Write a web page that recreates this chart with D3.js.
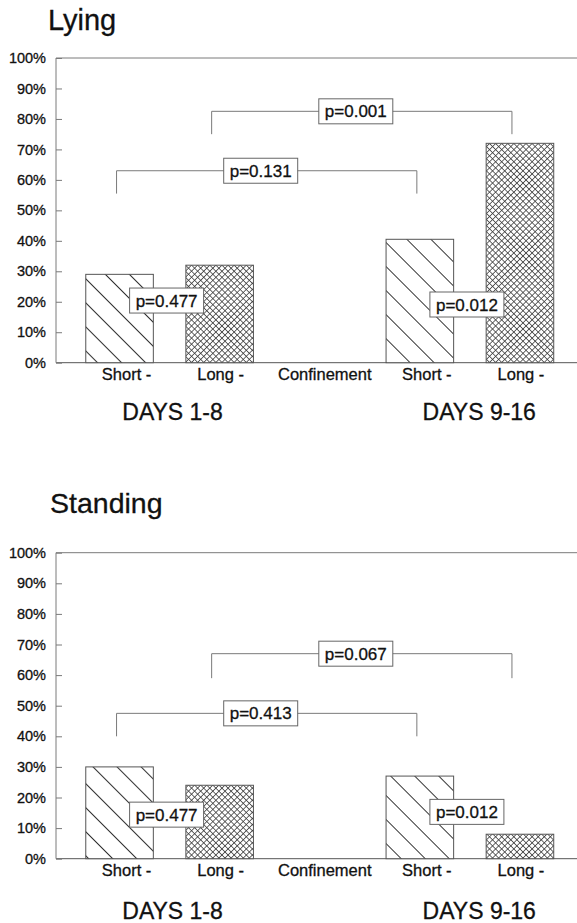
<!DOCTYPE html>
<html>
<head>
<meta charset="utf-8">
<script src="https://cdn.jsdelivr.net/npm/d3@7"></script>
<style>
  html, body { margin: 0; padding: 0; background: #fff; }
  svg { display: block; }
  text { font-family: "Liberation Sans", Arial, Helvetica, sans-serif; fill: #111; stroke: #111; stroke-width: 0.3px; }
</style>
</head>
<body>
<svg id="chart" width="577" height="923"></svg>
<script>
// ---- data ----
const catKeys   = ["s1", "l1", "conf", "s2", "l2"];
const catLabels = ["Short -", "Long -", "Confinement", "Short -", "Long -"];
const catKind   = ["short", "long", "none", "short", "long"];
const periodLabels = ["DAYS 1-8", "DAYS 9-16"];
const yTicks = [0, 10, 20, 30, 40, 50, 60, 70, 80, 90, 100];

const lyingValues    = [29, 32, null, 40.5, 72];
const standingValues = [30, 24, null, 27, 8];

// brackets: [fromKey, toKey, level %, drop-to %, label]
const lyingBrackets = [
  ["l1", "l2", 82.5, 75, "p=0.001"],
  ["s1", "s2", 63, 55.5, "p=0.131"]
];
const standingBrackets = [
  ["l1", "l2", 67, 59, "p=0.067"],
  ["s1", "s2", 47.5, 40, "p=0.413"]
];
// pair boxes between adjacent bars: [leftKey, rightKey, level %, label]
const lyingPairs = [
  ["s1", "l1", 20.4, "p=0.477"],
  ["s2", "l2", 19.1, "p=0.012"]
];
const standingPairs = [
  ["s1", "l1", 14.4, "p=0.477"],
  ["s2", "l2", 15.3, "p=0.012"]
];

// ---- drawing ----
const svg = d3.select("#chart");
svg.append("rect").attr("width", 577).attr("height", 923).attr("fill", "#fff");

const defs = svg.append("defs");
const diag = defs.append("pattern")
  .attr("id", "diag").attr("patternUnits", "userSpaceOnUse")
  .attr("width", 17).attr("height", 17)
  .attr("patternTransform", "rotate(45)");
diag.append("rect").attr("width", 17).attr("height", 17).attr("fill", "#fff");
diag.append("line").attr("x1", 0).attr("y1", 0.5).attr("x2", 17).attr("y2", 0.5)
  .attr("stroke", "#333").attr("stroke-width", 1);

const cross = defs.append("pattern")
  .attr("id", "cross").attr("patternUnits", "userSpaceOnUse")
  .attr("width", 4.3).attr("height", 4.3)
  .attr("patternTransform", "rotate(45)");
cross.append("rect").attr("width", 4.3).attr("height", 4.3).attr("fill", "#fff");
cross.append("line").attr("x1", 0).attr("y1", 0.4).attr("x2", 4.3).attr("y2", 0.4)
  .attr("stroke", "#3a3a3a").attr("stroke-width", 0.8);
cross.append("line").attr("x1", 0.4).attr("y1", 0).attr("x2", 0.4).attr("y2", 4.3)
  .attr("stroke", "#3a3a3a").attr("stroke-width", 0.8);

const x = d3.scaleBand().domain(catKeys).range([69.5, 570])
  .paddingInner(0.325).paddingOuter(0.1625);
const axisX = 56, rightX = 577;
const frameColor = "#7a7a7a";

function drawPanel(cfg) {
  const y = d3.scaleLinear().domain([0, 100]).range([cfg.y0, cfg.y1]);
  const g = svg.append("g");

  // title
  g.append("text").attr("x", cfg.titleX).attr("y", cfg.titleY)
    .attr("font-size", cfg.titleSize).text(cfg.title);

  // frame: top line and baseline
  g.append("line").attr("x1", axisX).attr("x2", rightX)
    .attr("y1", y(100)).attr("y2", y(100)).attr("stroke", frameColor).attr("stroke-width", 1);
  g.append("line").attr("x1", axisX).attr("x2", rightX)
    .attr("y1", y(0)).attr("y2", y(0)).attr("stroke", "#555").attr("stroke-width", 1);

  // y axis (ticks pointing inward)
  const yAxis = d3.axisRight(y).tickValues(yTicks).tickSize(6)
    .tickFormat(d => d + "%");
  const ya = g.append("g").attr("transform", `translate(${axisX},0)`).call(yAxis);
  ya.select(".domain").attr("stroke", frameColor).attr("d", `M0,${y(100)}V${y(0)}`);
  ya.selectAll(".tick line").attr("stroke", frameColor);
  ya.selectAll(".tick text")
    .attr("x", -10).attr("text-anchor", "end")
    .attr("font-size", 14.5).attr("fill", "#111")
    .attr("font-family", "'Liberation Sans', Arial, sans-serif");

  // bars
  const rows = catKeys.map((k, i) => ({ k, v: cfg.values[i], kind: catKind[i] }))
    .filter(d => d.v !== null);
  g.selectAll("rect.bar").data(rows).join("rect").attr("class", "bar")
    .attr("x", d => x(d.k)).attr("width", x.bandwidth())
    .attr("y", d => y(d.v)).attr("height", d => y(0) - y(d.v))
    .attr("fill", d => d.kind === "short" ? "url(#diag)" : "url(#cross)")
    .attr("stroke", "#555").attr("stroke-width", 1);

  // category labels
  g.selectAll("text.cat").data(catKeys).join("text").attr("class", "cat")
    .attr("x", (d, i) => x(d) + x.bandwidth() / 2 + (catKind[i] === "short" ? 7 : (catKind[i] === "none" ? 5 : 1)))
    .attr("y", y(0) + 17.5)
    .attr("text-anchor", "middle").attr("font-size", 16.5)
    .text((d, i) => catLabels[i]);

  // period labels
  g.selectAll("text.period").data(["s1", "s2"]).join("text").attr("class", "period")
    .attr("x", d => x(d) + 36.5)
    .attr("y", y(0) + cfg.periodDy)
    .attr("font-size", 23)
    .text((d, i) => periodLabels[i]);

  const boxW = 74, boxH = 25;
  function box(cx, cy, label) {
    g.append("rect").attr("x", cx - boxW / 2).attr("y", cy - boxH / 2)
      .attr("width", boxW).attr("height", boxH)
      .attr("fill", "#fff").attr("stroke", "#666").attr("stroke-width", 1);
    g.append("text").attr("x", cx).attr("y", cy + 6)
      .attr("text-anchor", "middle").attr("font-size", 17).text(label);
  }

  // brackets
  cfg.brackets.forEach(([a, b, lvl, drop, label]) => {
    const dx = a.startsWith("l") ? -8 : -3;
    const xa = x(a) + x.bandwidth() / 2 + dx;
    const xb = x(b) + x.bandwidth() / 2 + dx;
    g.append("path")
      .attr("d", `M${xa},${y(drop)}V${y(lvl)}H${xb}V${y(drop)}`)
      .attr("fill", "none").attr("stroke", frameColor).attr("stroke-width", 1);
    box((xa + xb) / 2 - 6, y(lvl), label);
  });

  // pair boxes
  cfg.pairs.forEach(([a, b, lvl, label]) => {
    const cx = (x(a) + x.bandwidth() + x(b)) / 2 - 3;
    box(cx, y(lvl), label);
  });
}

drawPanel({
  title: "Lying", titleX: 48, titleY: 30, titleSize: 29,
  y0: 362.7, y1: 58, periodDy: 57.5,
  values: lyingValues, brackets: lyingBrackets, pairs: lyingPairs
});
drawPanel({
  title: "Standing", titleX: 50, titleY: 513.3, titleSize: 28.5,
  y0: 858.7, y1: 552.7, periodDy: 60.6,
  values: standingValues, brackets: standingBrackets, pairs: standingPairs
});
</script>
</body>
</html>
